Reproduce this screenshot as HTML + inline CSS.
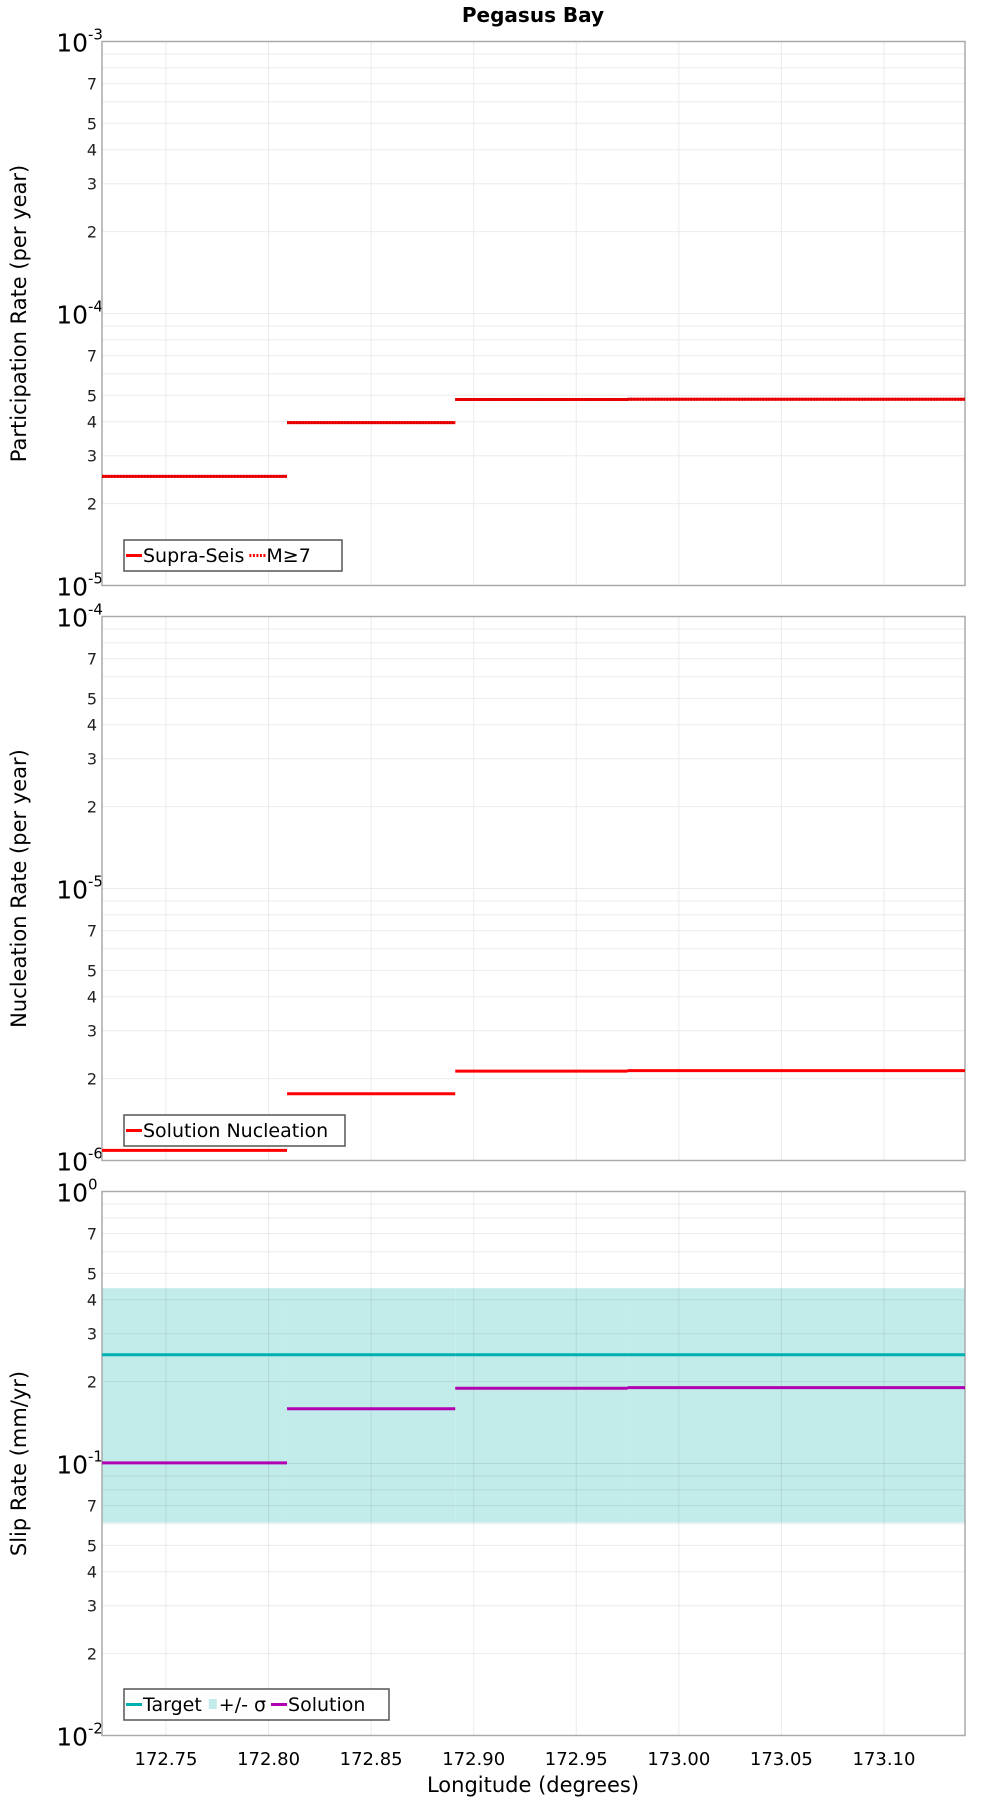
<!DOCTYPE html>
<html><head><meta charset="utf-8"><style>
html,body{margin:0;padding:0;background:#fff;}
svg{display:block;font-family:"DejaVu Sans","Liberation Sans",sans-serif;}
</style></head>
<body>
<svg id="chart" width="1000" height="1800" viewBox="0 0 1000 1800" xmlns="http://www.w3.org/2000/svg">
<text x="533" y="22" text-anchor="middle" font-size="20" font-weight="bold">Pegasus Bay</text>
<text x="533" y="1792" text-anchor="middle" font-size="21">Longitude (degrees)</text>
</svg>
<script>
const xTicks = [172.75, 172.80, 172.85, 172.90, 172.95, 173.00, 173.05, 173.10];
const xTickLabels = ["172.75","172.80","172.85","172.90","172.95","173.00","173.05","173.10"];
const segStart = [172.7188, 172.809, 172.891, 172.975];
const segEnd = [172.809, 172.891, 172.975, 173.1395];
const supraSeis = [2.52e-5, 3.97e-5, 4.83e-5, 4.84e-5];
const m7 = [2.52e-5, 3.97e-5, 4.83e-5, 4.84e-5];
const nucleation = [1.09e-6, 1.76e-6, 2.13e-6, 2.14e-6];
const targetSlip = [0.251, 0.251, 0.251, 0.251];
const sigmaHigh = [0.441, 0.441, 0.441, 0.441];
const sigmaLow = [0.0606, 0.0606, 0.0606, 0.0606];
const solutionSlip = [0.1005, 0.159, 0.189, 0.190];

const NS = "http://www.w3.org/2000/svg";
const svg = document.getElementById('chart');
const X0 = 102, X1 = 965, XMIN = 172.7188, XMAX = 173.1395;
function xs(v){ return X0 + (v - XMIN) / (XMAX - XMIN) * (X1 - X0); }
function mk(tag, attrs, parent){
  const e = document.createElementNS(NS, tag);
  for (const k in attrs) e.setAttribute(k, attrs[k]);
  (parent || svg).appendChild(e);
  return e;
}
const panels = [
  {top: 41.5, bot: 585.5, dmax: -3, dmin: -5, title: "Participation Rate (per year)", name: "participation"},
  {top: 616.5, bot: 1160.5, dmax: -4, dmin: -6, title: "Nucleation Rate (per year)", name: "nucleation"},
  {top: 1191.5, bot: 1735.5, dmax: 0, dmin: -2, title: "Slip Rate (mm/yr)", name: "slip"}
];
function ys(p, v){ return p.top + (p.dmax - Math.log10(v)) / (p.dmax - p.dmin) * (p.bot - p.top); }

panels.forEach((p, pi) => {
  const g = mk('g', {});
  
  
  // band (slip only) drawn before grid
  if (pi === 2) {
    for (let i = 0; i < segStart.length; i++) {
      const r = mk('rect', {x: xs(segStart[i]), y: ys(p, sigmaHigh[i]), width: xs(segEnd[i]) - xs(segStart[i]), height: ys(p, sigmaLow[i]) - ys(p, sigmaHigh[i]), fill: '#c2ecea'}, g);
      
      
    }
  }
  // grid
  for (let d = p.dmin; d < p.dmax; d++) {
    for (let m = 1; m <= 9; m++) {
      const v = m * Math.pow(10, d);
      const y = ys(p, v);
      const l = mk('line', {x1: X0, x2: X1, y1: y, y2: y, stroke: pi === 2 ? 'rgba(0,0,0,0.08)' : '#ebebeb', 'stroke-width': 1}, g);
      
      
      if (m === 1) {
        const t = mk('text', {x: 88, y: y + 10, 'text-anchor': 'end', 'font-size': 25}, g);
        t.textContent = '10';
        
        
        const s = mk('text', {x: 88, y: y - 2, 'text-anchor': 'start', 'font-size': 15}, g);
        s.textContent = String(d);
        
        
      } else if ([2,3,4,5,7].includes(m)) {
        const t = mk('text', {x: 97, y: y + 6, 'text-anchor': 'end', 'font-size': 16, fill: '#222'}, g);
        t.textContent = String(m);
        
        
      }
    }
  }
  // top decade label
  const tt = mk('text', {x: 88, y: p.top + 10, 'text-anchor': 'end', 'font-size': 25}, g);
  tt.textContent = '10';
  
  
  const ts = mk('text', {x: 88, y: p.top - 2, 'text-anchor': 'start', 'font-size': 15}, g);
  ts.textContent = String(p.dmax);
  
  
  xTicks.forEach(v => {
    const l = mk('line', {x1: xs(v), x2: xs(v), y1: p.top, y2: p.bot, stroke: pi === 2 ? 'rgba(0,0,0,0.08)' : '#ebebeb', 'stroke-width': 1}, g);
    
    
  });
  const fr = mk('rect', {x: X0, y: p.top, width: X1 - X0, height: p.bot - p.top, fill: 'none', stroke: '#aaa', 'stroke-width': 1.5}, g);
  
  
  const yt = mk('text', {x: 0, y: 0, 'text-anchor': 'middle', 'font-size': 21, transform: 'translate(26,' + ((p.top + p.bot) / 2) + ') rotate(-90)'}, g);
  yt.textContent = p.title;
  
  

  function series(vals, color, name, dash){
    for (let i = 0; i < vals.length; i++) {
      const l = mk('line', {x1: xs(segStart[i]), x2: xs(segEnd[i]), y1: ys(p, vals[i]), y2: ys(p, vals[i]), stroke: color, 'stroke-width': 3}, g);
      if (dash) l.setAttribute('stroke-dasharray', dash);
      
      
    }
  }
  if (pi === 0) { series(supraSeis, '#ff0000', 'supra-seis'); series(m7, '#d00000', 'm7', '1.5,1.5'); }
  if (pi === 1) { series(nucleation, '#ff0000', 'solution-nucleation'); }
  if (pi === 2) { series(targetSlip, '#00b0b0', 'target'); series(solutionSlip, '#b000b0', 'solution'); }
});

// x tick labels
xTicks.forEach((v, i) => {
  const t = mk('text', {x: xs(v), y: 1765, 'text-anchor': 'middle', 'font-size': 18});
  t.textContent = xTickLabels[i];
  
  
});

// legends
function legend(x, y, w, items, name){
  const g = mk('g', {});
  
  
  const r = mk('rect', {x: x, y: y, width: w, height: 31, fill: '#fff', stroke: '#555', 'stroke-width': 1.5}, g);
  
  
  let cx = x + 2;
  items.forEach(it => {
    if (it.type === 'box') {
      const b = mk('rect', {x: cx + 2, y: y + 10, width: 8, height: 10, fill: it.color}, g);
      
      
      cx += 12;
    } else {
      const l = mk('line', {x1: cx, x2: cx + 16, y1: y + 15.5, y2: y + 15.5, stroke: it.color, 'stroke-width': 3}, g);
      if (it.dash) l.setAttribute('stroke-dasharray', it.dash);
      
      
      cx += 17;
    }
    const t = mk('text', {x: cx, y: y + 22, 'font-size': 19}, g);
    t.textContent = it.label;
    
    
    cx += t.getComputedTextLength() + 5;
  });
}
legend(124, 540, 218, [{color:'#ff0000', label:'Supra-Seis'}, {color:'#ff0000', label:'M≥7', dash:'2,1.5'}], 'participation-legend');
legend(124, 1115, 221, [{color:'#ff0000', label:'Solution Nucleation'}], 'nucleation-legend');
legend(124, 1689, 265, [{color:'#00b0b0', label:'Target'}, {type:'box', color:'#c2ecea', label:'+/- σ'}, {color:'#b000b0', label:'Solution'}], 'slip-legend');
</script>
</body></html>
